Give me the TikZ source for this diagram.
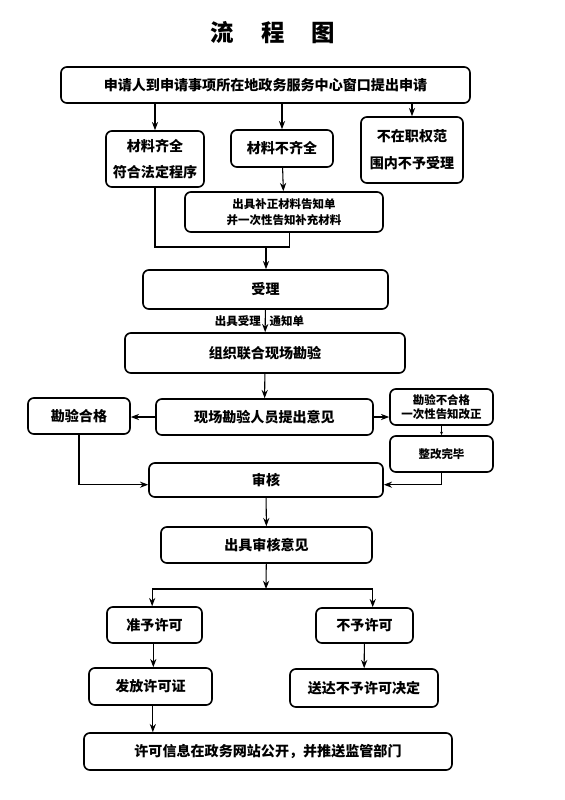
\documentclass[tikz,border=0pt]{standalone}
\usepackage{fontspec}
\newfontfamily\cjk{Noto Sans CJK SC}
\usetikzlibrary{arrows.meta,positioning}

\begin{document}
\begin{tikzpicture}[x=0.03cm, y=-0.03cm, >=Stealth, font=\cjk\bfseries\fontsize{12}{14}\selectfont,
      box/.style={draw, line width=1.4pt, rounded corners=5pt, align=center, inner sep=2pt},
      small/.style={font=\cjk\bfseries\fontsize{9.8}{12}\selectfont},
      arr/.style={->, line width=0.9pt},
      link/.style={line width=0.9pt}
    ]
    \useasboundingbox (0,0) rectangle (565,800);

    \node[font=\cjk\bfseries\fontsize{20}{24}\selectfont] (title) at (273,33)
          {流\hspace{1.15em}程\hspace{1.15em}图};

    % application and first check
    \node[box, minimum width=12.27cm, minimum height=1.08cm] (apply) at (265.5,85)
          {申请人到申请事项所在地政务服务中心窗口提出申请};
    \node[box, minimum width=2.94cm, minimum height=1.68cm] (ok) at (155,159)
          {材料齐全\\[8pt]符合法定程序};
    \node[box, minimum width=3.06cm, minimum height=1.11cm] (lack) at (282,148.5)
          {材料不齐全};
    \node[box, minimum width=3.06cm, minimum height=1.98cm] (out) at (412,150)
          {不在职权范\\[9pt]围内不予受理};
    \node[box, small, minimum width=5.94cm, minimum height=1.2cm] (notice) at (284,212)
          {出具补正材料告知单\\[2pt]并一次性告知补充材料};

    \draw[arr] (apply.south -| ok.north) -- (ok.north);
    \draw[arr] (apply.south -| lack.north) -- (lack.north);
    \draw[arr] (apply.south -| out.north) -- (out.north);
    \draw[arr] (lack) -- (notice);

    \coordinate (join) at (266,247);
    \draw[link] (ok.south) |- ([xshift=5pt]notice.south |- join) -- ([xshift=5pt]notice.south);

    % acceptance and survey
    \node[box, minimum width=7.35cm, minimum height=1.17cm] (accept) at (265.5,289.5) {受理};
    \draw[arr] (join) -- (join |- accept.north);
    \node[box, minimum width=8.4cm, minimum height=1.2cm] (survey) at (265,353) {组织联合现场勘验};
    \draw[arr] (accept) -- node[left, small]{出具受理} node[right, small]{通知单} (survey);

    \node[box, minimum width=6.51cm, minimum height=1.08cm] (opinion) at (264.5,417)
          {现场勘验人员提出意见};
    \node[box, minimum width=3.06cm, minimum height=1.08cm] (pass) at (79,416) {勘验合格};
    \node[box, small, minimum width=3.09cm, minimum height=1.08cm] (fail) at (441.5,407)
          {勘验不合格\\一次性告知改正};
    \node[box, small, minimum width=3.09cm, minimum height=1.08cm] (fixed) at (441.5,454)
          {整改完毕};
    \draw[arr] (survey) -- (opinion);
    \draw[arr] (opinion.west) -- (opinion.west -| pass.east);
    \draw[arr] (opinion.east) -- (opinion.east -| fail.west);
    \draw[->, >={Stealth[length=3pt,width=2.5pt]}, line width=0.6pt] (fail) -- (fixed);

    % review
    \node[box, minimum width=7.02cm, minimum height=1.02cm] (review) at (266,480) {审核};
    \draw[arr] (pass.south) |- ([yshift=-4pt]review.west);
    \draw[arr] (fixed.south) |- ([yshift=-4pt]review.east);
    \node[box, minimum width=6.33cm, minimum height=1.08cm] (result) at (266.5,545) {出具审核意见};
    \draw[arr] (review) -- (result);

    % decision
    \coordinate (split) at (266,589);
    \node[box, minimum width=2.85cm, minimum height=1.08cm] (grant) at (154.5,625) {准予许可};
    \node[box, minimum width=2.91cm, minimum height=1.05cm] (deny) at (364.5,625.5) {不予许可};
    \draw[arr] (result) -- (split);
    \draw[arr] (split) -| ([xshift=-2pt]grant.north);
    \draw[arr] (split) -| ([xshift=7pt]deny.north);

    \node[box, minimum width=3.69cm, minimum height=1.11cm] (issue) at (150.5,686.5) {发放许可证};
    \node[box, minimum width=4.44cm, minimum height=1.14cm] (deliver) at (364,688) {送达不予许可决定};
    \draw[arr] ([xshift=-1pt]grant.south) -- ([xshift=-1pt]grant.south |- issue.north);
    \draw[arr] (deny) -- (deliver);

    \node[box, minimum width=11.04cm, minimum height=1.11cm] (publish) at (268,751.5)
          {许可信息在政务网站公开，并推送监管部门};
    \draw[arr] ([xshift=2pt]issue.south) -- ([xshift=2pt]issue.south |- publish.north);
  \end{tikzpicture}
\end{document}
